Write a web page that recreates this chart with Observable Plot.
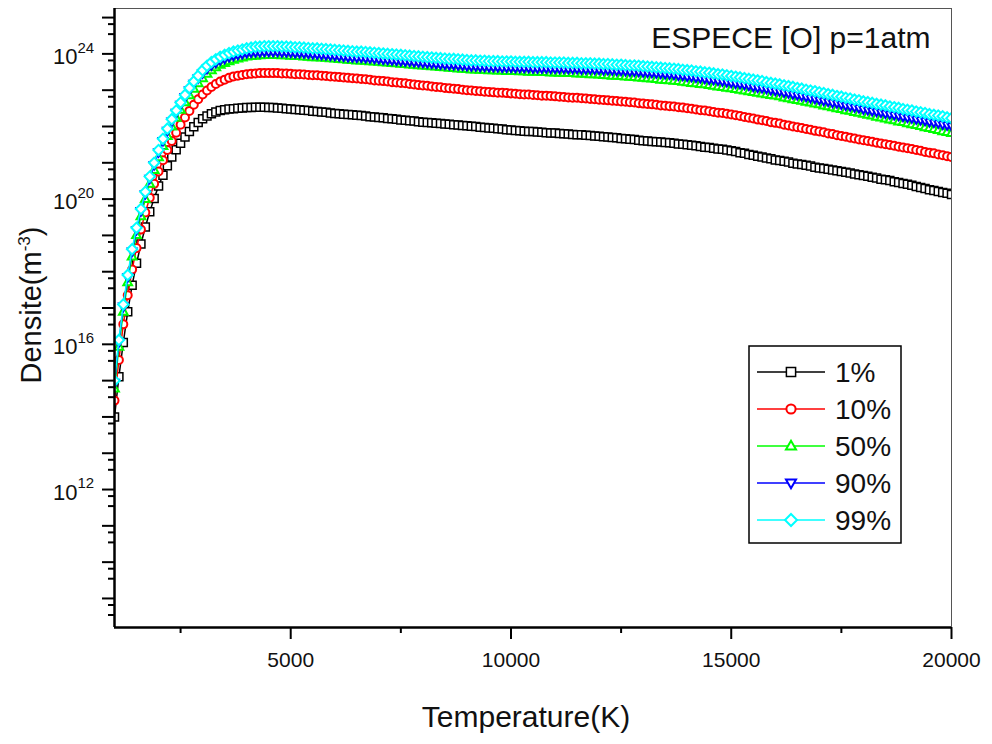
<!DOCTYPE html>
<html><head><meta charset="utf-8">
<script src="https://cdn.jsdelivr.net/npm/d3@7"></script>
<script src="https://cdn.jsdelivr.net/npm/@observablehq/plot@0.6"></script>
<style>
body{margin:0;background:#fff}
#chart{position:relative;width:992px;height:744px}
</style>
</head><body><div id="chart"></div>
<script>
// ---- data ----
const temperatureK = [
1000,1100,1200,1300,1400,1500,1600,1700,1800,1900,
2000,2100,2200,2300,2400,2500,2600,2700,2800,2900,
3000,3100,3200,3300,3400,3500,3600,3700,3800,3900,
4000,4100,4200,4300,4400,4500,4600,4700,4800,4900,
5000,5100,5200,5300,5400,5500,5600,5700,5800,5900,
6000,6100,6200,6300,6400,6500,6600,6700,6800,6900,
7000,7100,7200,7300,7400,7500,7600,7700,7800,7900,
8000,8100,8200,8300,8400,8500,8600,8700,8800,8900,
9000,9100,9200,9300,9400,9500,9600,9700,9800,9900,
10000,10100,10200,10300,10400,10500,10600,10700,10800,10900,
11000,11100,11200,11300,11400,11500,11600,11700,11800,11900,
12000,12100,12200,12300,12400,12500,12600,12700,12800,12900,
13000,13100,13200,13300,13400,13500,13600,13700,13800,13900,
14000,14100,14200,14300,14400,14500,14600,14700,14800,14900,
15000,15100,15200,15300,15400,15500,15600,15700,15800,15900,
16000,16100,16200,16300,16400,16500,16600,16700,16800,16900,
17000,17100,17200,17300,17400,17500,17600,17700,17800,17900,
18000,18100,18200,18300,18400,18500,18600,18700,18800,18900,
19000,19100,19200,19300,19400,19500,19600,19700,19800,19900,
20000];

// log10 of density (m^-3)
const log10N_1pct = [
14.00,15.11,16.05,16.90,17.63,18.23,18.76,19.23,19.65,20.02,
20.36,20.66,20.92,21.16,21.36,21.54,21.71,21.86,21.99,22.11,
22.21,22.29,22.35,22.40,22.44,22.46,22.48,22.49,22.50,22.51,
22.52,22.52,22.53,22.53,22.53,22.52,22.52,22.51,22.50,22.49,
22.48,22.47,22.46,22.45,22.44,22.42,22.41,22.40,22.39,22.37,
22.36,22.35,22.34,22.33,22.32,22.31,22.30,22.29,22.27,22.26,
22.25,22.24,22.22,22.21,22.20,22.18,22.17,22.16,22.15,22.13,
22.12,22.11,22.10,22.09,22.08,22.07,22.06,22.05,22.04,22.03,
22.02,22.01,22.00,21.98,21.97,21.96,21.95,21.94,21.93,21.91,
21.90,21.89,21.88,21.87,21.86,21.86,21.85,21.84,21.83,21.82,
21.82,21.81,21.80,21.79,21.78,21.77,21.77,21.76,21.75,21.74,
21.73,21.72,21.71,21.70,21.69,21.67,21.66,21.65,21.64,21.62,
21.61,21.60,21.59,21.58,21.57,21.56,21.55,21.54,21.52,21.51,
21.50,21.48,21.47,21.45,21.43,21.42,21.40,21.38,21.37,21.35,
21.33,21.31,21.28,21.26,21.23,21.21,21.18,21.16,21.13,21.11,
21.08,21.06,21.04,21.02,20.99,20.97,20.95,20.93,20.91,20.88,
20.86,20.84,20.82,20.80,20.78,20.76,20.74,20.72,20.69,20.67,
20.65,20.63,20.60,20.58,20.55,20.53,20.51,20.48,20.46,20.43,
20.41,20.38,20.35,20.32,20.29,20.26,20.24,20.21,20.18,20.16,
20.13];

const log10N_10pct = [
14.45,15.57,16.55,17.35,18.06,18.65,19.16,19.63,20.04,20.42,
20.76,21.07,21.35,21.60,21.83,22.05,22.25,22.43,22.60,22.75,
22.88,22.99,23.09,23.17,23.24,23.29,23.34,23.38,23.40,23.42,
23.44,23.45,23.46,23.47,23.47,23.47,23.47,23.47,23.46,23.46,
23.45,23.44,23.44,23.43,23.42,23.41,23.41,23.40,23.39,23.38,
23.37,23.36,23.35,23.34,23.33,23.32,23.31,23.30,23.29,23.27,
23.26,23.25,23.24,23.22,23.21,23.20,23.19,23.17,23.16,23.14,
23.13,23.12,23.10,23.09,23.08,23.06,23.05,23.04,23.03,23.01,
23.00,22.99,22.98,22.97,22.96,22.95,22.94,22.93,22.93,22.92,
22.91,22.90,22.89,22.88,22.88,22.87,22.86,22.85,22.85,22.84,
22.83,22.82,22.81,22.80,22.79,22.79,22.78,22.77,22.76,22.75,
22.74,22.73,22.72,22.71,22.70,22.69,22.68,22.67,22.66,22.64,
22.63,22.62,22.61,22.60,22.58,22.57,22.56,22.55,22.53,22.52,
22.50,22.49,22.47,22.45,22.44,22.42,22.40,22.38,22.37,22.35,
22.33,22.31,22.29,22.26,22.24,22.22,22.19,22.17,22.15,22.12,
22.10,22.08,22.05,22.03,22.00,21.98,21.96,21.93,21.91,21.88,
21.86,21.84,21.81,21.79,21.76,21.74,21.72,21.69,21.67,21.64,
21.62,21.60,21.58,21.55,21.53,21.51,21.49,21.47,21.44,21.42,
21.40,21.38,21.35,21.33,21.30,21.28,21.26,21.23,21.21,21.18,
21.16];

const log10N_50pct = [
14.78,15.93,16.90,17.71,18.42,19.01,19.53,20.00,20.42,20.80,
21.15,21.46,21.74,22.00,22.24,22.46,22.67,22.86,23.04,23.19,
23.33,23.45,23.55,23.63,23.70,23.75,23.80,23.84,23.87,23.90,
23.93,23.94,23.95,23.96,23.97,23.97,23.97,23.97,23.96,23.96,
23.95,23.94,23.94,23.93,23.92,23.91,23.91,23.90,23.89,23.88,
23.87,23.86,23.85,23.84,23.83,23.82,23.82,23.81,23.80,23.79,
23.78,23.77,23.76,23.75,23.74,23.73,23.72,23.71,23.70,23.69,
23.68,23.67,23.66,23.65,23.64,23.63,23.62,23.61,23.60,23.59,
23.58,23.57,23.57,23.56,23.56,23.55,23.55,23.54,23.54,23.53,
23.53,23.53,23.52,23.52,23.51,23.51,23.51,23.50,23.50,23.49,
23.49,23.48,23.48,23.47,23.47,23.46,23.46,23.45,23.44,23.44,
23.43,23.42,23.41,23.40,23.40,23.39,23.38,23.37,23.36,23.35,
23.34,23.33,23.32,23.31,23.29,23.28,23.27,23.26,23.25,23.23,
23.22,23.20,23.19,23.17,23.16,23.14,23.12,23.10,23.09,23.07,
23.05,23.03,23.01,22.99,22.97,22.95,22.93,22.91,22.89,22.87,
22.85,22.83,22.80,22.78,22.75,22.73,22.71,22.68,22.66,22.63,
22.61,22.58,22.56,22.53,22.50,22.48,22.45,22.43,22.40,22.38,
22.35,22.32,22.30,22.27,22.25,22.22,22.19,22.17,22.14,22.12,
22.09,22.06,22.04,22.01,21.98,21.96,21.93,21.90,21.87,21.85,
21.82];

const log10N_90pct = [
14.94,16.06,17.04,17.85,18.56,19.15,19.67,20.14,20.56,20.94,
21.29,21.60,21.88,22.14,22.38,22.60,22.81,23.00,23.18,23.33,
23.47,23.59,23.69,23.76,23.83,23.87,23.92,23.95,23.98,24.00,
24.03,24.04,24.05,24.05,24.06,24.06,24.06,24.06,24.05,24.05,
24.04,24.03,24.03,24.02,24.01,24.00,23.99,23.98,23.97,23.96,
23.95,23.94,23.93,23.92,23.91,23.90,23.90,23.89,23.88,23.87,
23.86,23.85,23.84,23.83,23.82,23.81,23.80,23.79,23.78,23.77,
23.76,23.75,23.74,23.73,23.72,23.71,23.70,23.70,23.69,23.68,
23.67,23.66,23.66,23.65,23.65,23.64,23.64,23.64,23.63,23.63,
23.63,23.62,23.62,23.62,23.62,23.61,23.61,23.61,23.61,23.60,
23.60,23.60,23.60,23.59,23.59,23.59,23.58,23.58,23.58,23.57,
23.57,23.56,23.56,23.55,23.54,23.54,23.53,23.52,23.52,23.51,
23.50,23.49,23.48,23.47,23.46,23.45,23.44,23.43,23.41,23.40,
23.38,23.37,23.35,23.34,23.32,23.30,23.29,23.27,23.25,23.23,
23.21,23.19,23.17,23.15,23.13,23.10,23.08,23.06,23.04,23.01,
22.99,22.97,22.94,22.92,22.89,22.87,22.84,22.82,22.79,22.77,
22.74,22.71,22.69,22.66,22.64,22.61,22.58,22.56,22.53,22.51,
22.48,22.46,22.43,22.41,22.39,22.36,22.34,22.32,22.30,22.27,
22.25,22.23,22.20,22.18,22.16,22.13,22.11,22.09,22.06,22.04,
22.01];

const log10N_99pct = [
15.00,16.12,17.10,17.91,18.62,19.21,19.73,20.20,20.62,21.00,
21.35,21.66,21.94,22.20,22.44,22.66,22.87,23.06,23.24,23.40,
23.55,23.67,23.77,23.85,23.92,23.97,24.02,24.06,24.09,24.12,
24.15,24.17,24.19,24.20,24.21,24.21,24.21,24.21,24.20,24.20,
24.19,24.18,24.18,24.17,24.16,24.15,24.15,24.14,24.13,24.12,
24.11,24.10,24.09,24.08,24.07,24.06,24.06,24.05,24.04,24.03,
24.02,24.01,24.00,23.99,23.98,23.97,23.96,23.95,23.94,23.93,
23.92,23.91,23.90,23.89,23.88,23.87,23.86,23.86,23.85,23.84,
23.83,23.82,23.82,23.81,23.81,23.80,23.80,23.80,23.79,23.79,
23.79,23.78,23.78,23.78,23.78,23.77,23.77,23.77,23.77,23.76,
23.76,23.76,23.76,23.75,23.75,23.75,23.74,23.74,23.74,23.73,
23.73,23.72,23.72,23.71,23.70,23.70,23.69,23.68,23.68,23.67,
23.66,23.65,23.64,23.63,23.62,23.61,23.60,23.59,23.58,23.56,
23.55,23.54,23.52,23.51,23.49,23.48,23.46,23.44,23.43,23.41,
23.39,23.37,23.35,23.33,23.31,23.29,23.27,23.25,23.22,23.20,
23.18,23.16,23.13,23.11,23.09,23.06,23.04,23.01,22.99,22.97,
22.94,22.92,22.89,22.87,22.84,22.82,22.79,22.77,22.74,22.72,
22.69,22.67,22.65,22.62,22.60,22.58,22.55,22.53,22.51,22.48,
22.46,22.44,22.41,22.39,22.37,22.34,22.32,22.30,22.28,22.25,
22.23];

const seriesNames = ["1%", "10%", "50%", "90%", "99%"];
const seriesLogValues = [log10N_1pct, log10N_10pct, log10N_50pct, log10N_90pct, log10N_99pct];
const seriesColors = ["#000000", "#ff0000", "#00ff00", "#0000ff", "#00ffff"];
const xMajorTicks = [5000, 10000, 15000, 20000];
const xMinorTicks = [2500, 7500, 12500, 17500];
const yLabelExponents = [12, 16, 20, 24];
const yDecadeExponents = [9,10,11,12,13,14,15,16,17,18,19,20,21,22,23,24,25];
const yMinorFactors = [0.66, 0.35];
const xDomain = [1000, 20000];
const yDomainLog10 = [8.2, 25.25];
const titleText = "ESPECE [O] p=1atm";
const xTitle = "Temperature(K)";

// ---- symbols ----
const symSquare = {draw(c, size){const r=Math.sqrt(size/Math.PI); c.rect(-r,-r,2*r,2*r);}};
const symCircle = {draw(c, size){const r=Math.sqrt(size/Math.PI); c.moveTo(r,0); c.arc(0,0,r,0,2*Math.PI);}};
const symTriUp = {draw(c, size){const r=Math.sqrt(size/Math.PI)*1.15; c.moveTo(0,-r); c.lineTo(r*0.95,r*0.65); c.lineTo(-r*0.95,r*0.65); c.closePath();}};
const symTriDown = {draw(c, size){const r=Math.sqrt(size/Math.PI)*1.15; c.moveTo(0,r); c.lineTo(r*0.95,-r*0.65); c.lineTo(-r*0.95,-r*0.65); c.closePath();}};
const symDiamond = {draw(c, size){const r=Math.sqrt(size/Math.PI)*1.3; c.moveTo(0,-r); c.lineTo(r,0); c.lineTo(0,r); c.lineTo(-r,0); c.closePath();}};
const seriesSymbols = [symSquare, symCircle, symTriUp, symTriDown, symDiamond];
const seriesMarkerStroke = [1.5, 2, 2, 2, 2];

// ---- build table ----
const table = [];
seriesNames.forEach((name, s) => {
  temperatureK.forEach((T, i) => table.push({series: name, T, n: Math.pow(10, seriesLogValues[s][i])}));
});

const yMin = Math.pow(10, yDomainLog10[0]);
const yMax = Math.pow(10, yDomainLog10[1]);
const decadeTicks = yDecadeExponents.map(e => Math.pow(10, e));
const minorTicks = [];
yDecadeExponents.forEach(e => yMinorFactors.forEach(f => {
  const v = f * Math.pow(10, e);
  if (v > yMin && v < yMax) minorTicks.push(v);
}));

const font = "'Liberation Sans', Arial, sans-serif";
const markerR = 4;
const legendMarkerR = 4.6;
const marks = [];
seriesNames.forEach((name, s) => {
  const data = table.filter(d => d.series === name);
  marks.push(Plot.line(data, {x: "T", y: "n", stroke: seriesColors[s], strokeWidth: 1.5, clip: true}));
  marks.push(Plot.dot(data, {x: "T", y: "n", stroke: seriesColors[s], fill: "white", strokeWidth: seriesMarkerStroke[s], r: markerR, symbol: seriesSymbols[s], clip: true}));
});
marks.push(
  Plot.frame({stroke: "#555", strokeWidth: 1}),
  Plot.axisX({ticks: xMajorTicks, tickSize: 12, tickPadding: 13, fontSize: 21, strokeWidth: 2, label: null, tickFormat: d => String(d), fill: "#111"}),
  Plot.axisX({ticks: xMinorTicks, tickSize: 6, strokeWidth: 2, label: null, tickFormat: () => ""}),
  Plot.axisY({ticks: decadeTicks, tickSize: 12, strokeWidth: 2, label: null, tickFormat: () => ""}),
  Plot.axisY({ticks: minorTicks, tickSize: 6, strokeWidth: 2, label: null, tickFormat: () => ""}),
  Plot.ruleX([xDomain[0]], {stroke: "#000", strokeWidth: 2.5}),
  Plot.ruleY([yMin], {stroke: "#000", strokeWidth: 2.5}),
  Plot.text(yLabelExponents, {x: () => xDomain[0], y: d => Math.pow(10, d), text: () => "10", textAnchor: "end", lineAnchor: "middle", dx: -37, dy: 3, fontSize: 22, fill: "#111"}),
  Plot.text(yLabelExponents, {x: () => xDomain[0], y: d => Math.pow(10, d), text: d => String(d), textAnchor: "start", lineAnchor: "middle", dx: -37, dy: -6, fontSize: 15, fill: "#111"}),
  Plot.text([titleText], {frameAnchor: "top-right", textAnchor: "end", lineAnchor: "top", dx: -21, dy: 18, fontSize: 30, fill: "#111"}),
  Plot.text([xTitle], {frameAnchor: "bottom", lineAnchor: "top", dx: -7, dy: 78, fontSize: 30, fill: "#111"})
);

const chart = Plot.plot({
  width: 992, height: 744,
  marginLeft: 114, marginRight: 41, marginTop: 8, marginBottom: 117,
  style: {fontFamily: font, background: "white", overflow: "visible"},
  x: {domain: xDomain},
  y: {type: "log", domain: [yMin, yMax]},
  marks
});
document.getElementById("chart").appendChild(chart);

// ---- y axis title with superscript ----
const svg = d3.select(chart);
const yt = svg.append("text")
  .attr("transform", "translate(41,305) rotate(-90)")
  .attr("text-anchor", "middle")
  .attr("font-family", font)
  .attr("font-size", 29)
  .attr("fill", "#111");
yt.append("tspan").text("Densite(m");
yt.append("tspan").attr("font-size", 17).attr("dy", -11).text("-3");
yt.append("tspan").attr("dy", 11).text(")");

// ---- legend ----
const lg = svg.append("g").attr("font-family", font).attr("text-anchor", "start");
lg.append("rect").attr("x", 749).attr("y", 346).attr("width", 152).attr("height", 197)
  .attr("fill", "white").attr("stroke", "#000").attr("stroke-width", 1.5);
seriesNames.forEach((name, s) => {
  const cy = 372 + s * 37;
  lg.append("line").attr("x1", 757).attr("x2", 825).attr("y1", cy).attr("y2", cy)
    .attr("stroke", seriesColors[s]).attr("stroke-width", 1.5);
  lg.append("path").attr("transform", `translate(791,${cy})`)
    .attr("d", d3.symbol(seriesSymbols[s], Math.PI * legendMarkerR * legendMarkerR)())
    .attr("fill", "white").attr("stroke", seriesColors[s]).attr("stroke-width", seriesMarkerStroke[s]);
  lg.append("text").attr("x", 835).attr("y", cy).attr("dy", "0.36em")
    .attr("text-anchor", "start")
    .attr("font-size", 28).attr("fill", "#111").text(name);
});
</script>
</body></html>
